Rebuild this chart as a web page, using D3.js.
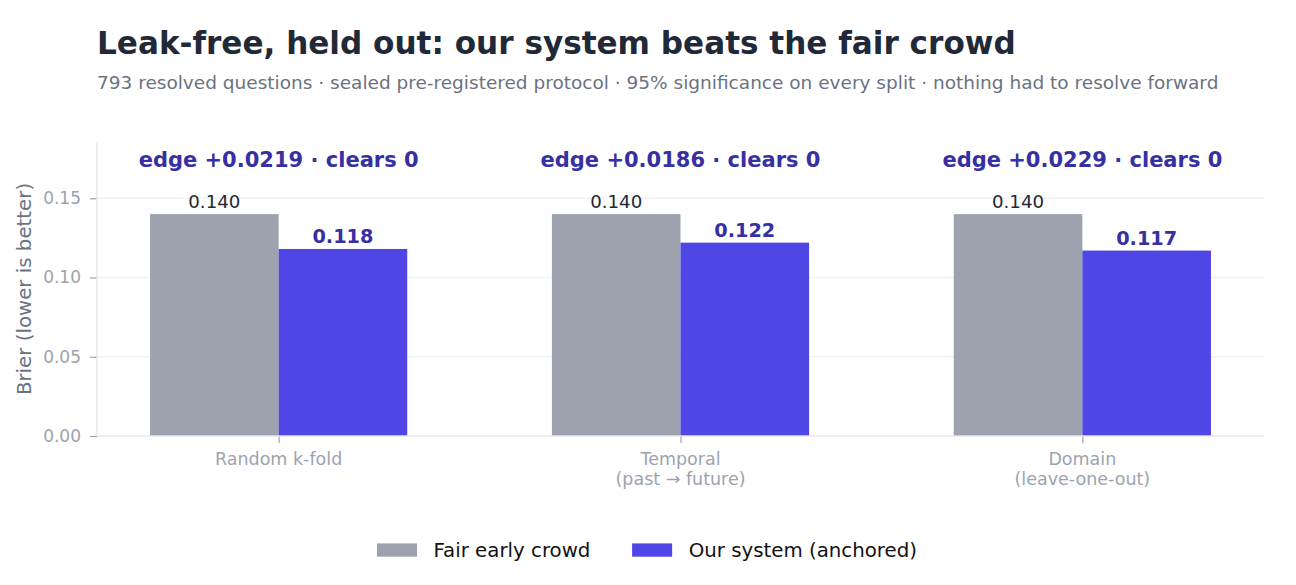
<!DOCTYPE html>
<html>
<head>
<meta charset="utf-8">
<script src="https://cdn.jsdelivr.net/npm/d3@7"></script>
<style>
  html, body { margin: 0; padding: 0; background: #fff; }
  svg { display: block; font-family: "DejaVu Sans", sans-serif; }
</style>
</head>
<body>
<svg id="chart" width="1296" height="585"></svg>
<script>
// Chart values.
const splits = ["Random k-fold", "Temporal\n(past \u2192 future)", "Domain\n(leave-one-out)"];
const crowdBrier = [0.140, 0.140, 0.140];
const systemBrier = [0.118, 0.122, 0.117];
const edges = [0.0219, 0.0186, 0.0229];
const yTicks = [0.00, 0.05, 0.10, 0.15];
const seriesNames = ["Fair early crowd", "Our system (anchored)"];

const colors = {crowd: "#9ca3af", system: "#4f46e5", accent: "#3730a3"};

const svg = d3.select("#chart");
const plot = {left: 97, right: 1264, top: 142, bottom: 436};
const barW = 0.32;

// Same x limits matplotlib gives with default margins around the bars.
const x = d3.scaleLinear()
    .domain([-0.452, 2.452])
    .range([plot.left, plot.right]);

const y = d3.scaleLinear()
    .domain([0, 0.1855])
    .range([plot.bottom, plot.top]);

// Title + subtitle
svg.append("text")
    .attr("x", 97).attr("y", 54)
    .attr("font-size", 31.1).attr("font-weight", "bold")
    .attr("fill", "#1f2937")
    .text("Leak-free, held out: our system beats the fair crowd");

svg.append("text")
    .attr("x", 97).attr("y", 88.5)
    .attr("font-size", 18.5)
    .attr("fill", "#6b7280")
    .text("793 resolved questions \u00b7 sealed pre-registered protocol \u00b7 95% significance on every split \u00b7 nothing had to resolve forward");

// Grid lines
svg.append("g")
    .selectAll("line")
    .data(yTicks.filter(d => d > 0))
    .join("line")
    .attr("x1", plot.left).attr("x2", plot.right)
    .attr("y1", d => y(d)).attr("y2", d => y(d))
    .attr("stroke", "#f0f1f3").attr("stroke-width", 1.3);

// Bars
const groups = svg.append("g")
    .selectAll("g")
    .data(splits.map((s, i) => ({i: i, crowd: crowdBrier[i], ours: systemBrier[i], edge: edges[i]})))
    .join("g");

groups.append("rect")
    .attr("x", d => x(d.i - barW))
    .attr("y", d => y(d.crowd))
    .attr("width", d => x(d.i) - x(d.i - barW))
    .attr("height", d => y(0) - y(d.crowd))
    .attr("fill", colors.crowd);

groups.append("rect")
    .attr("x", d => x(d.i))
    .attr("y", d => y(d.ours))
    .attr("width", d => x(d.i + barW) - x(d.i))
    .attr("height", d => y(0) - y(d.ours))
    .attr("fill", colors.system);

// Value labels
groups.append("text")
    .attr("x", d => x(d.i - barW / 2))
    .attr("y", d => y(d.crowd) - 6)
    .attr("text-anchor", "middle")
    .attr("font-size", 18.2)
    .attr("fill", "#1f2937")
    .text(d => d.crowd.toFixed(3));

groups.append("text")
    .attr("x", d => x(d.i + barW / 2))
    .attr("y", d => y(d.ours) - 6)
    .attr("text-anchor", "middle")
    .attr("font-size", 19.3).attr("font-weight", "bold")
    .attr("fill", colors.accent)
    .text(d => d.ours.toFixed(3));

// Edge callouts above each pair
groups.append("text")
    .attr("x", d => x(d.i))
    .attr("y", d => y(d.crowd) - 47)
    .attr("text-anchor", "middle")
    .attr("font-size", 21).attr("font-weight", "bold")
    .attr("fill", colors.accent)
    .text(d => "edge +" + d.edge.toFixed(4) + " \u00b7 clears 0");

// Y axis
const yAxis = d3.axisLeft(y)
    .tickValues(yTicks)
    .tickFormat(d3.format(".2f"))
    .tickSize(7)
    .tickPadding(9);

const yg = svg.append("g")
    .attr("transform", `translate(${plot.left},0)`)
    .call(yAxis);
yg.select(".domain").remove();
yg.selectAll(".tick line").attr("stroke", "#9ca3af").attr("stroke-width", 1.2);
yg.selectAll(".tick text")
    .attr("fill", "#9ca3af")
    .attr("font-size", 17)
    .attr("font-family", "DejaVu Sans");

// X axis ticks (labels drawn separately for two-line names)
const xg = svg.append("g")
    .attr("transform", `translate(0,${plot.bottom})`)
    .call(d3.axisBottom(x).tickValues(d3.range(splits.length)).tickFormat("").tickSize(7));
xg.select(".domain").remove();
xg.selectAll(".tick line").attr("stroke", "#9ca3af").attr("stroke-width", 1.2);

const xLabels = svg.append("g")
    .selectAll("text")
    .data(splits)
    .join("text")
    .attr("x", (d, i) => x(i))
    .attr("y", 465)
    .attr("text-anchor", "middle")
    .attr("font-size", 17.5)
    .attr("fill", "#9ca3af");
xLabels.selectAll("tspan")
    .data((d, i) => d.split("\n").map(t => ({t: t, i: i})))
    .join("tspan")
    .attr("x", d => x(d.i))
    .attr("dy", (d, j) => j === 0 ? 0 : 20)
    .text(d => d.t);

// Spines: left and bottom only
svg.append("line")
    .attr("x1", plot.left).attr("x2", plot.left)
    .attr("y1", plot.top).attr("y2", plot.bottom)
    .attr("stroke", "#e5e7eb").attr("stroke-width", 1.5);
svg.append("line")
    .attr("x1", plot.left).attr("x2", plot.right)
    .attr("y1", plot.bottom).attr("y2", plot.bottom)
    .attr("stroke", "#e5e7eb").attr("stroke-width", 1.5);

// Y label
svg.append("text")
    .attr("transform", `translate(30.5,${(plot.top + plot.bottom) / 2}) rotate(-90)`)
    .attr("text-anchor", "middle")
    .attr("font-size", 19.8)
    .attr("fill", "#6b7280")
    .text("Brier (lower is better)");

// Legend, centred under the figure
const legend = svg.append("g");
const items = legend.selectAll("g")
    .data(seriesNames)
    .join("g");
items.append("rect")
    .attr("width", 40).attr("height", 13.3)
    .attr("y", -13.3)
    .attr("fill", (d, i) => i === 0 ? colors.crowd : colors.system);
items.append("text")
    .attr("x", 56.5)
    .attr("font-size", 19.8)
    .attr("fill", "#111")
    .text(d => d);

let cursor = 0;
items.each(function() {
    d3.select(this).attr("transform", `translate(${cursor},0)`);
    cursor += this.getBBox().width + 41.7;
});
const legendW = cursor - 41.7;
legend.attr("transform", `translate(${647 - legendW / 2},556.7)`);
</script>
</body>
</html>
